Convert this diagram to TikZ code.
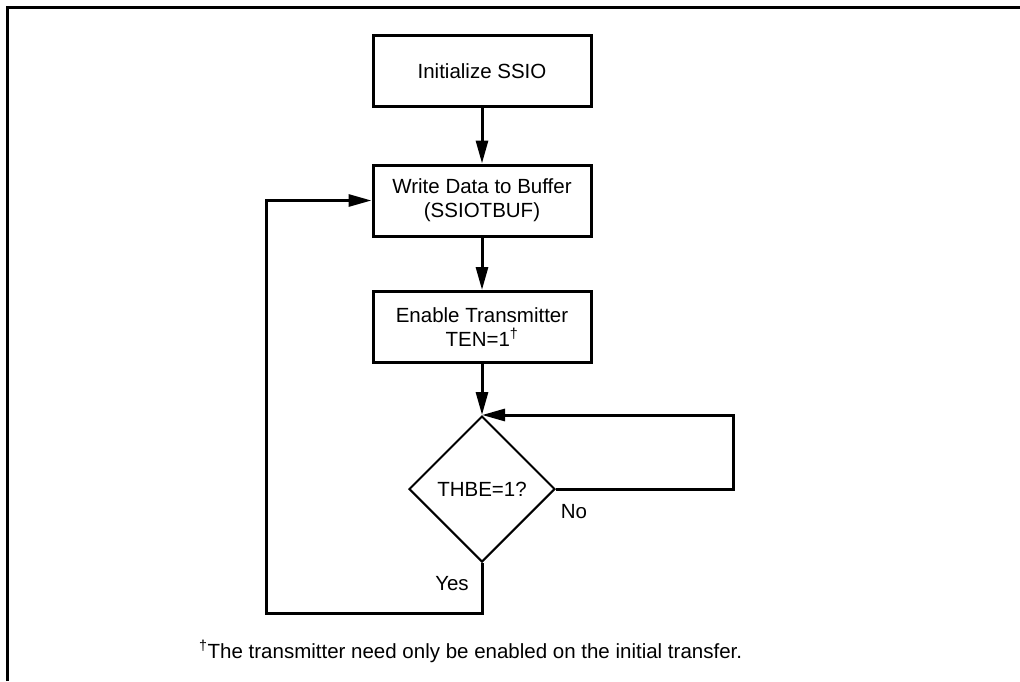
\documentclass[tikz,border=0pt]{standalone}
\usepackage{fontspec}
\setmainfont{Liberation Sans}
\usetikzlibrary{arrows.meta,shapes.geometric}
\begin{document}
\begin{tikzpicture}[x=1pt,y=-1pt,
  txt/.style={font=\fontsize{20.5}{24}\selectfont},
  box/.style={txt,draw,line width=3pt,minimum width=218pt,minimum height=71pt,align=center,inner sep=0pt},
  dec/.style={txt,draw,line width=2pt,diamond,minimum width=146pt,minimum height=146pt,inner sep=0pt},
  conn/.style={line width=3pt,-{Triangle[length=23pt,width=12pt]}},
  lab/.style={txt,inner sep=0pt}]
\useasboundingbox (0,0) rectangle (1020,681);
\draw[line width=3pt] (7.5,681) -- (7.5,7.5) -- (1020,7.5);
\node[box] (b1) at (482,71) {Initialize SSIO};
\node[box] (b2) at (482,200.5) {Write Data to Buffer\\(SSIOTBUF)};
\node[box] (b3) at (482,327) {Enable Transmitter\\TEN=1\textsuperscript{†}};
\node[dec] (d) at (482,489) {THBE=1?};
\coordinate (nr) at (733,415);
\coordinate (yl) at (266,613);
\draw[conn] (b1) -- (b2);
\draw[conn] (b2) -- (b3);
\draw[conn] (b3) -- (d.north);
\draw[conn] (d.east) -| (nr) -- (d.north);
\draw[conn] (d.south) |- (yl) |- (b2.west);
\node[lab] (yes) at (452,584) {Yes};
\node[lab] (no) at (574,512) {No};
\node[lab,anchor=base west] (fn) at (199,658) {\textsuperscript{†}The transmitter need only be enabled on the initial transfer.};
\end{tikzpicture}
\end{document}
